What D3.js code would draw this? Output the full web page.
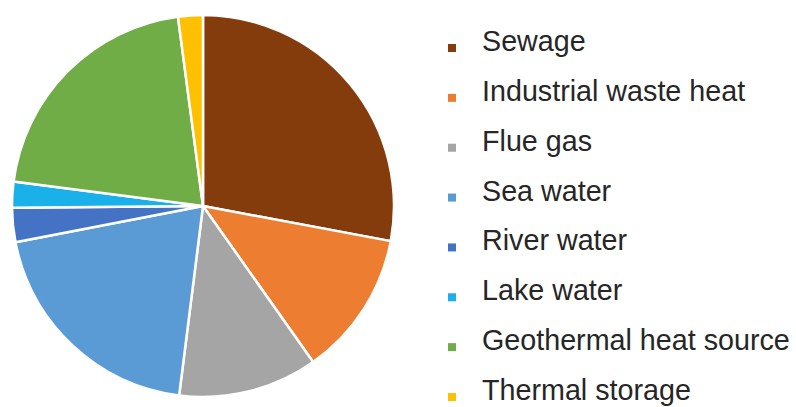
<!DOCTYPE html>
<html>
<head>
<meta charset="utf-8">
<script src="https://cdn.jsdelivr.net/npm/d3@7"></script>
<style>
  html, body { margin: 0; padding: 0; background: #fff; }
  svg { display: block; }
</style>
</head>
<body>
<svg id="chart" width="796" height="407"></svg>
<script>
const categories = ["Sewage", "Industrial waste heat", "Flue gas", "Sea water", "River water", "Lake water", "Geothermal heat source", "Thermal storage"];
const values = [28, 12.3, 11.8, 20, 2.9, 2.2, 20.9, 2.1];
const colors = ["#843C0C", "#ED7D31", "#A5A5A5", "#5B9BD5", "#4472C4", "#1AB0EA", "#70AD47", "#FFC000"];

const svg = d3.select("#chart");
const cx = 203, cy = 206, r = 191;

const data = categories.map((c, i) => ({ name: c, value: values[i], color: colors[i] }));
const pie = d3.pie().sort(null).value(d => d.value);
const arc = d3.arc().innerRadius(0).outerRadius(r);

svg.append("g").attr("transform", `translate(${cx},${cy})`)
  .selectAll("path").data(pie(data)).join("path")
  .attr("d", arc)
  .attr("fill", d => d.data.color)
  .attr("stroke", "#fff")
  .attr("stroke-width", 2.5)
  .attr("stroke-linejoin", "round");

const y = d3.scalePoint().domain(categories).range([51, 400]);
const lg = svg.append("g");
const items = lg.selectAll("g").data(data).join("g")
  .attr("transform", d => `translate(0,${y(d.name)})`);
items.append("rect")
  .attr("x", 448).attr("y", -7).attr("width", 8).attr("height", 8)
  .attr("fill", d => d.color);
items.append("text")
  .attr("x", 482).attr("y", 0)
  .attr("font-family", "Liberation Sans, Arial, sans-serif")
  .attr("font-size", 28.7)
  .attr("fill", "#262626")
  .text(d => d.name);
</script>
</body>
</html>
